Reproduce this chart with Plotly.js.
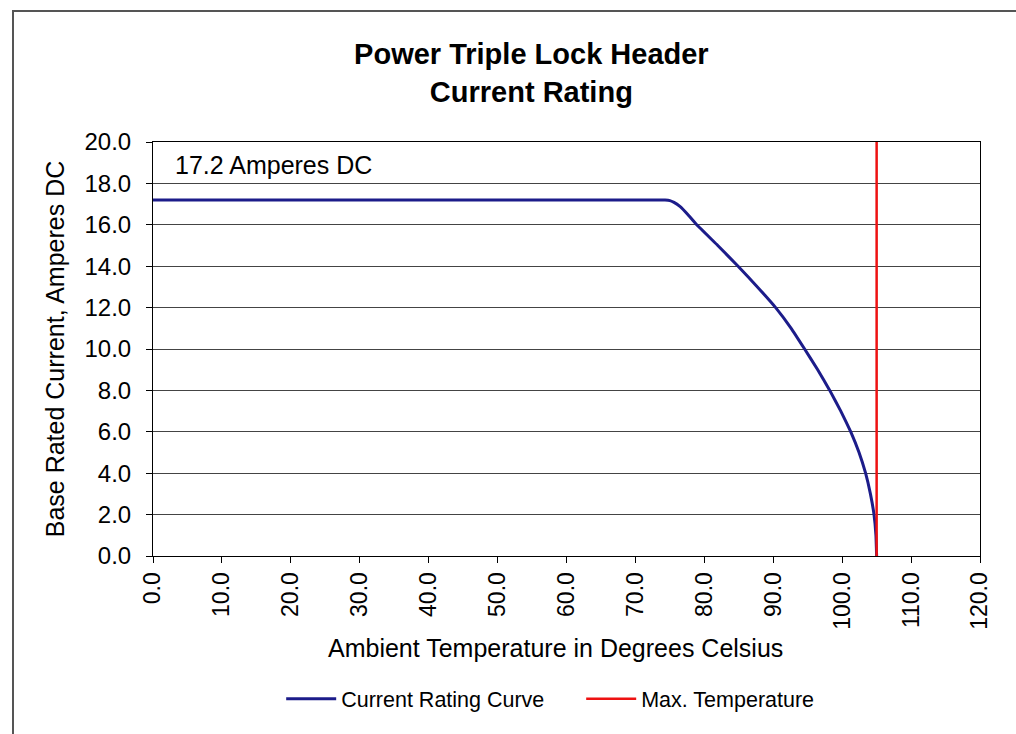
<!DOCTYPE html>
<html>
<head>
<meta charset="utf-8">
<script src="https://cdn.plot.ly/plotly-3.0.1.min.js"></script>
<style>
html,body{margin:0;padding:0;background:#fff;}
#frame{position:absolute;left:12px;top:10px;width:1020px;height:740px;border:2px solid #555;box-sizing:border-box;pointer-events:none;}
#chart{position:absolute;left:0;top:0;width:1016px;height:734px;}
</style>
</head>
<body>
<div id="chart"></div>
<div id="frame"></div>
<script>
// Current rating curve (Ambient temperature °C vs Amperes DC)
var tempC = [0, 10, 20, 30, 40, 50, 60, 70, 74.3, 75.0, 75.6, 76.5, 77.6, 78.9, 81.95, 84.9, 87.7, 90.35, 92.6, 94.55, 96.45, 98.2, 99.8, 101.25, 102.45, 103.4, 104.1, 104.62, 104.9, 105];
var currentA = [17.2, 17.2, 17.2, 17.2, 17.2, 17.2, 17.2, 17.2, 17.2, 17.17, 17.08, 16.88, 16.5, 16.0, 15.0, 14.0, 13.0, 12.0, 11.0, 10.0, 9.0, 8.0, 7.0, 6.0, 5.0, 4.0, 3.0, 2.0, 1.0, 0];
// Max temperature line
var maxTempX = [105, 105];
var maxTempY = [0, 20];
var yTicks = [0, 2, 4, 6, 8, 10, 12, 14, 16, 18, 20];
var xTicks = [0, 10, 20, 30, 40, 50, 60, 70, 80, 90, 100, 110, 120];

var font = "Liberation Sans, Arial, sans-serif";

var traces = [
  {x: tempC, y: currentA, type: 'scatter', mode: 'lines', name: 'Current Rating Curve',
   line: {color: '#1c1c8a', width: 3, shape: 'spline', smoothing: 0.25}},
  {x: maxTempX, y: maxTempY, type: 'scatter', mode: 'lines', name: 'Max. Temperature',
   line: {color: '#ee1111', width: 2.5}}
];

var layout = {
  width: 1016, height: 734,
  margin: {l: 153, r: 36, t: 142, b: 178, autoexpand: false},
  paper_bgcolor: '#fff', plot_bgcolor: '#fff',
  font: {family: font, color: '#000', size: 23},
  title: {text: '<b>Power Triple Lock Header<br>Current Rating</b>', font: {size: 29, family: font, color: '#000'},
          x: 0.523, xanchor: 'center', y: 0.913, yanchor: 'middle'},
  xaxis: {range: [0, 120], tickvals: xTicks, ticktext: xTicks.map(function(v){return v.toFixed(1);}),
          tickangle: -90, ticks: 'outside', ticklen: 6, tickcolor: '#000', showgrid: false, zeroline: false,
          showline: true, linecolor: '#000', linewidth: 1, mirror: true, fixedrange: true,
          tickfont: {size: 23}},
  yaxis: {range: [0, 20], tickvals: yTicks, ticktext: yTicks.map(function(v){return v.toFixed(1);}),
          ticks: 'outside', ticklen: 6, tickcolor: '#000', showgrid: true, gridcolor: '#444', gridwidth: 1,
          zeroline: false, showline: true, linecolor: '#000', linewidth: 1, mirror: true, fixedrange: true,
          tickfont: {size: 24}, ticklabelstandoff: 10,
          title: {text: 'Base Rated Current, Amperes DC', font: {size: 25}, standoff: 12}},
  legend: {orientation: 'h', x: 0.155, xanchor: 'left', y: -0.345, yanchor: 'middle',
           font: {size: 21.5}, itemwidth: 50, tracegroupgap: 0, entrywidth: 235, entrywidthmode: 'pixels'},
  annotations: [
    {xref: 'paper', yref: 'paper', x: 0.024, y: 0.945, xanchor: 'left', yanchor: 'middle',
     text: '17.2 Amperes DC', showarrow: false, font: {size: 25}},
    {xref: 'paper', yref: 'paper', x: 0.487, y: -0.222, xanchor: 'center', yanchor: 'middle',
     text: 'Ambient Temperature in Degrees Celsius', showarrow: false, font: {size: 25}}
  ],
  showlegend: true
};

Plotly.newPlot('chart', traces, layout, {displayModeBar: false, staticPlot: true});
</script>
</body>
</html>
